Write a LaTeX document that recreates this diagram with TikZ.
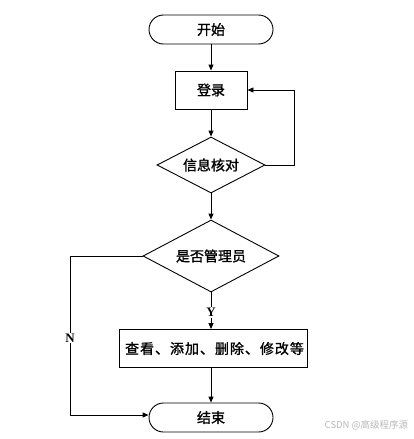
\documentclass[tikz,border=0pt]{standalone}
\usepackage{fontspec}
\usetikzlibrary{arrows.meta,shapes.geometric}
\newfontfamily\cjk[FakeBold=1.2]{Noto Sans CJK SC}
\newfontfamily\cjkw[FakeBold=1.2,LetterSpace=7]{Noto Sans CJK SC}
\newfontfamily\cjkm{Noto Sans CJK SC}
\newfontfamily\lat{Liberation Serif}
\begin{document}
\begin{tikzpicture}[x=1pt,y=-1pt,
  line width=0.9pt,
  txt/.style={font=\cjk\fontsize{14}{14}\selectfont},
  term/.style={draw,rounded corners=14.5pt,minimum width=124pt,minimum height=29pt,inner sep=0pt,txt},
  proc/.style={draw,minimum height=38pt,inner sep=0pt,txt},
  dec/.style={draw,diamond,aspect=1.93,inner sep=0pt,txt},
  arr/.style={-{Triangle[length=6pt,width=5pt]}},
  lbl/.style={font=\lat\bfseries\fontsize{13}{13}\selectfont,fill=white,inner sep=1pt}]
\useasboundingbox (0,0) rectangle (413,439);
\node[term] (start) at (211,29.5) {开始};
\node[proc,minimum width=72pt] (login) at (211,90) {登录};
\node[dec,minimum width=108pt,minimum height=56pt] (check) at (211,165) {信息核对};
\node[dec,minimum width=136pt,minimum height=72pt] (admin) at (211,256) {是否管理员};
\node[proc,minimum width=188pt,font=\cjkw\fontsize{14}{14}\selectfont] (ops) at (213,348.5) {\hspace{3pt}查看、添加、删除、修改等};
\node[term] (end) at (211,417.5) {结束};
\coordinate (fb) at (294,90);
\coordinate (nl) at (70,256);
\coordinate (nb) at (70,415);
\draw[arr] (start) -- (login);
\draw[arr] (login) -- (check);
\draw[arr] (check.east) -| (fb) -- (login.east);
\draw[arr] (check) -- (admin);
\draw[arr] (admin.south) -- (admin.south |- ops.north) node[lbl,pos=0.55] (y) {Y};
\draw[arr] (admin.south |- ops.south) -- (end);
\draw[arr] (admin.west) -- (nl) -- (nb) -- (end.west |- nb);
\node[lbl] (n) at (70,338) {N};
\node[font=\cjkm\fontsize{9.5}{9.5}\selectfont,text=gray!55,anchor=east] (wmk) at (412,425) {CSDN @高级程序源};
\end{tikzpicture}
\end{document}
